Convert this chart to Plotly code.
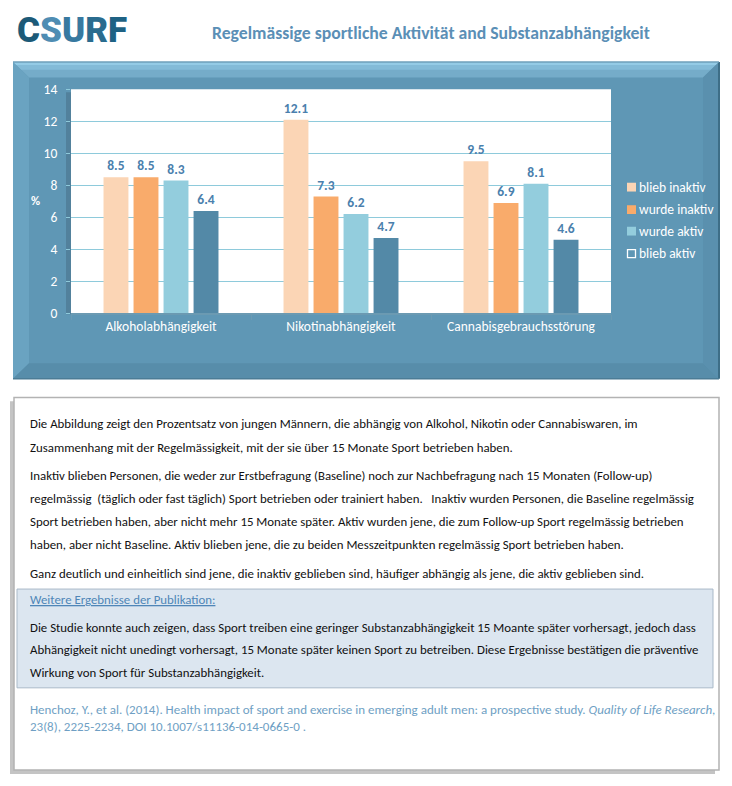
import plotly.graph_objects as go

W, H = 732, 786          # browser window
OFF = 8                  # default body margin of the page
FW, FH = W - 2 * OFF, H - 2 * OFF

# ---------------- data ----------------
categories = ["Alkoholabhängigkeit", "Nikotinabhängigkeit", "Cannabisgebrauchsstörung"]
series_names = ["blieb inaktiv", "wurde inaktiv", "wurde aktiv", "blieb aktiv"]
blieb_inaktiv = [8.5, 12.1, 9.5]
wurde_inaktiv = [8.5, 7.3, 6.9]
wurde_aktiv = [8.3, 6.2, 8.1]
blieb_aktiv = [6.4, 4.7, 4.6]
series_values = [blieb_inaktiv, wurde_inaktiv, wurde_aktiv, blieb_aktiv]
y_ticks = [0, 2, 4, 6, 8, 10, 12, 14]

title_text = "Regelmässige sportliche Aktivität and Substanzabhängigkeit"
body_lines = [
    "Die Abbildung zeigt den Prozentsatz von jungen Männern, die abhängig von Alkohol, Nikotin oder Cannabiswaren, im",
    "Zusammenhang mit der Regelmässigkeit, mit der sie über 15 Monate Sport betrieben haben.",
    "Inaktiv blieben Personen, die weder zur Erstbefragung (Baseline) noch zur Nachbefragung nach 15 Monaten (Follow-up)",
    "regelmässig  (täglich oder fast täglich) Sport betrieben oder trainiert haben.   Inaktiv wurden Personen, die Baseline regelmässig",
    "Sport betrieben haben, aber nicht mehr 15 Monate später. Aktiv wurden jene, die zum Follow-up Sport regelmässig betrieben",
    "haben, aber nicht Baseline. Aktiv blieben jene, die zu beiden Messzeitpunkten regelmässig Sport betrieben haben.",
    "Ganz deutlich und einheitlich sind jene, die inaktiv geblieben sind, häufiger abhängig als jene, die aktiv geblieben sind.",
]
heading_text = "Weitere Ergebnisse der Publikation:"
box_lines = [
    "Die Studie konnte auch zeigen, dass Sport treiben eine geringer Substanzabhängigkeit 15 Moante später vorhersagt, jedoch dass",
    "Abhängigkeit nicht unedingt vorhersagt, 15 Monate später keinen Sport zu betreiben. Diese Ergebnisse bestätigen die präventive",
    "Wirkung von Sport für Substanzabhängigkeit.",
]
citation_lines = [
    "Henchoz, Y., et al. (2014). Health impact of sport and exercise in emerging adult men: a prospective study. <i>Quality of Life Research,</i>",
    "23(8), 2225-2234, DOI 10.1007/s11136-014-0665-0 .",
]

# ---------------- styles ----------------
bar_colors = ["#FBD5B5", "#F9AB6B", "#93CDDD", "#5389A7"]
label_color = "#4A80AD"
FONT = "Carlito, Calibri, Lato, sans-serif"
TXT = 12.85


def X(px):
    return (px - OFF) / FW


def Y(py):
    return 1 - (py - OFF) / FH


def poly(points, fill, line=None):
    path = "M " + " L ".join(f"{X(x):.5f},{Y(y):.5f}" for x, y in points) + " Z"
    return dict(type="path", xref="paper", yref="paper", path=path,
                fillcolor=fill, line=dict(width=0) if line is None else line,
                layer="below")


def rect(x0, y0, x1, y1, fill, line=None):
    return dict(type="rect", xref="paper", yref="paper",
                x0=X(x0), x1=X(x1), y0=Y(y1), y1=Y(y0),
                fillcolor=fill, line=dict(width=0) if line is None else line,
                layer="below")


fig = go.Figure()
for name, vals, col in zip(series_names, series_values, bar_colors):
    fig.add_trace(go.Bar(
        x=categories, y=vals, name=name,
        marker=dict(color=col, line=dict(width=0)),
        texttemplate="%{y:.1f}", textposition="outside",
        textfont=dict(family=FONT, size=13.5, color=label_color, weight="bold"),
        cliponaxis=False, showlegend=False,
    ))

# ---------------- shapes ----------------
L, T, R, B, bv = 13, 55, 719, 379, 16
shapes = [
    # panel with bevel
    rect(L, T, R, B, "#5F97B5"),
    poly([(L, T), (R, T), (R - bv, T + bv), (L + bv, T + bv)], "#75ACC9"),
    poly([(L, T), (R, T), (R - 8, T + 8), (L + 8, T + 8)], "#83BBD8"),
    poly([(L, T), (R, T), (R - 3, T + 3), (L + 3, T + 3)], "#94CBE6"),
    poly([(L, T), (L + bv, T + bv), (L + bv, B - bv), (L, B)], "#6AA3C1"),
    poly([(R, T), (R, B), (R - bv, B - bv), (R - bv, T + bv)], "#5A90AE"),
    poly([(L, B), (R, B), (R - bv, B - bv), (L + bv, B - bv)], "#578DAA"),
    dict(type="line", xref="paper", yref="paper", x0=X(R), x1=X(R), y0=Y(T), y1=Y(B),
         line=dict(color="#3E6E87", width=2), layer="below"),
    dict(type="line", xref="paper", yref="paper", x0=X(L), x1=X(R), y0=Y(B), y1=Y(B),
         line=dict(color="#4B7C96", width=1.5), layer="below"),
    dict(type="line", xref="paper", yref="paper", x0=X(L), x1=X(R), y0=Y(T), y1=Y(T),
         line=dict(color="#6E9FBA", width=1.5), layer="below"),
    # plot area shadow + white face
    rect(66, 86, 71, 313, "rgba(60,90,110,0.35)"),
    rect(71, 83, 611, 312, "#FFFFFF"),
    # text box shadow + box
    rect(10, 402, 715, 783, "#C4C4C4"),
    rect(14, 398, 719, 779, "#FFFFFF", dict(color="#B3B3B3", width=1.5)),
    # blue sub box
    rect(17, 594, 713, 695, "#DCE6F0", dict(color="#A9B9C8", width=1)),
]

# legend (manual)
leg_y = [183, 206, 228, 251]
for name, col, yy in zip(series_names, bar_colors, leg_y):
    if name == "blieb aktiv":
        shapes.append(dict(type="rect", xref="paper", yref="paper",
                           x0=X(627.5), x1=X(635.5), y0=Y(yy + 4), y1=Y(yy - 4),
                           fillcolor="rgba(0,0,0,0)", line=dict(color="#FFFFFF", width=1.3)))
    else:
        shapes.append(dict(type="rect", xref="paper", yref="paper",
                           x0=X(627), x1=X(636), y0=Y(yy + 4.5), y1=Y(yy - 4.5),
                           fillcolor=col, line=dict(width=0)))

annotations = []
for name, yy in zip(series_names, leg_y):
    annotations.append(dict(x=X(637), y=Y(yy), xref="paper", yref="paper",
                            text=name, showarrow=False, xanchor="left", yanchor="middle",
                            font=dict(family=FONT, size=13.5, color="#FFFFFF")))

# % axis title
annotations.append(dict(x=X(35), y=Y(197), xref="paper", yref="paper", text="%",
                        showarrow=False, xanchor="center", yanchor="middle",
                        font=dict(family=FONT, size=12.5, color="#FFFFFF", weight="bold")))

# logo
logo = ("<span style='color:#1C5A78'>C</span><span style='color:#4F8DB3'>S</span>"
        "<span style='color:#3779A0'>U</span><span style='color:#2A6C8F'>R</span>"
        "<span style='color:#1E6284'>F</span>")
annotations.append(dict(x=X(15), y=Y(23), xref="paper", yref="paper", text=logo,
                        showarrow=False, xanchor="left", yanchor="middle",
                        font=dict(family="Roboto", size=35, weight=900, color="#1C5A78")))

# title
annotations.append(dict(x=X(431), y=Y(25), xref="paper", yref="paper", text=title_text,
                        showarrow=False, xanchor="center", yanchor="middle",
                        font=dict(family=FONT, size=17.7, color="#5B8FB6", weight="bold")))

body_y = [425, 449, 478, 501, 525, 548, 578]
for t, yy in zip(body_lines, body_y):
    annotations.append(dict(x=X(28), y=Y(yy), xref="paper", yref="paper", text=t,
                            showarrow=False, xanchor="left", yanchor="middle",
                            font=dict(family=FONT, size=TXT, color="#111111")))

annotations.append(dict(x=X(28), y=Y(605), xref="paper", yref="paper",
                        text="<u>" + heading_text + "</u>",
                        showarrow=False, xanchor="left", yanchor="middle",
                        font=dict(family=FONT, size=TXT, color="#4F86B8")))

box_y = [633, 656, 679]
for t, yy in zip(box_lines, box_y):
    annotations.append(dict(x=X(28), y=Y(yy), xref="paper", yref="paper", text=t,
                            showarrow=False, xanchor="left", yanchor="middle",
                            font=dict(family=FONT, size=TXT, color="#111111")))

cit_y = [717, 735]
for t, yy in zip(citation_lines, cit_y):
    annotations.append(dict(x=X(28), y=Y(yy), xref="paper", yref="paper", text=t,
                            showarrow=False, xanchor="left", yanchor="middle",
                            font=dict(family=FONT, size=13.0, color="#6F9FC4")))

fig.update_layout(
    width=FW, height=FH,
    margin=dict(l=0, r=0, t=0, b=0),
    paper_bgcolor="#FFFFFF",
    plot_bgcolor="rgba(0,0,0,0)",
    barmode="group", bargap=0.333, bargroupgap=0.17,
    shapes=shapes, annotations=annotations,
    font=dict(family=FONT),
    xaxis=dict(domain=[X(71), X(611)], type="category",
               tickfont=dict(family=FONT, size=13.5, color="#FFFFFF"),
               showline=True, linecolor="#6B9AB2", linewidth=2,
               ticks="outside", tickson="boundaries", ticklen=5, tickcolor="#6B9AB2",
               showgrid=False, fixedrange=True),
    yaxis=dict(domain=[Y(312), Y(83)], range=[0, 14], tickvals=y_ticks,
               tickfont=dict(family=FONT, size=13.5, color="#FFFFFF"),
               gridcolor="#8ECADB", gridwidth=1, zeroline=False,
               ticks="outside", ticklen=4, tickcolor="#8ECADB",
               ticklabelstandoff=6, showline=False, fixedrange=True),
)

fig.write_html("out.html")
